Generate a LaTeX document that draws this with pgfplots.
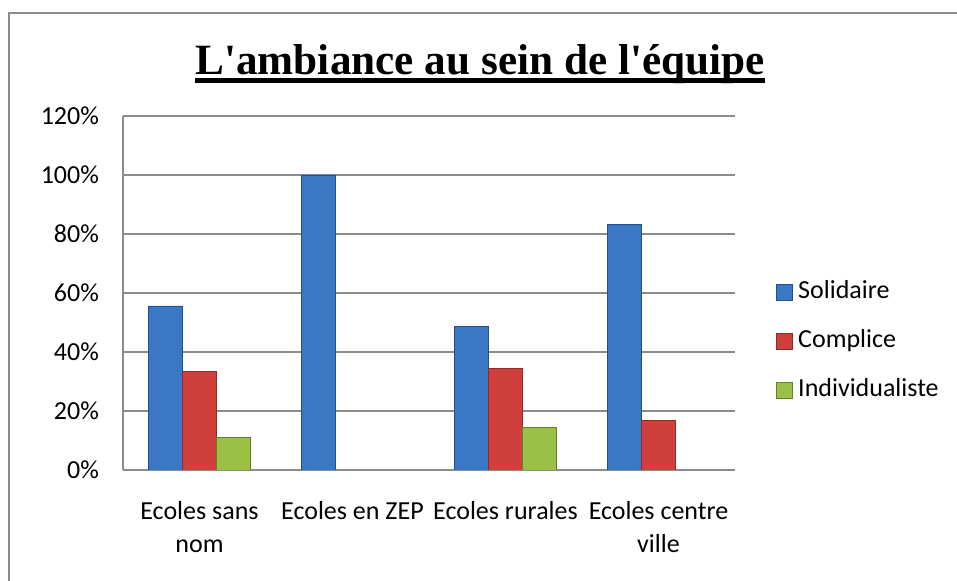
\documentclass[border=0pt]{standalone}
\usepackage{pgfplots}
\pgfplotsset{compat=1.18}
\usepackage{fontspec}
\setmainfont{Carlito}
\newfontfamily\titlefont{Liberation Serif}
\definecolor{gridgray}{HTML}{8C8C8C}
\definecolor{sol}{HTML}{3A78C4}
\definecolor{solD}{HTML}{23508C}
\definecolor{com}{HTML}{CF3F3C}
\definecolor{comD}{HTML}{8E2A28}
\definecolor{ind}{HTML}{9AC046}
\definecolor{indD}{HTML}{64802A}
\begin{document}
\begin{tikzpicture}
\useasboundingbox (0,0) rectangle (478.5pt,290.5pt);
\draw[gridgray, line width=1pt] (4.5pt,-2pt) -- (4.5pt,284pt) -- (482pt,284pt);
\node[font=\titlefont\bfseries\fontsize{21.6}{26}\selectfont, inner sep=0pt, anchor=base] (T) at (240pt,253pt) {L\textquotesingle ambiance au sein de l\textquotesingle équipe};
\draw[line width=2.5pt] ([yshift=-2.9pt]T.base west) -- ([yshift=-2.9pt]T.base east);
\begin{axis}[
  at={(61.5pt,55.5pt)}, anchor=south west,
  scale only axis, width=306pt, height=177pt,
  xmin=-0.5, xmax=3.5, ymin=0, ymax=120,
  ybar=0pt, bar width=17pt,
  axis x line*=bottom, axis y line*=left,
  axis line style={-, gridgray, line width=0.75pt},
  ytick={0,20,...,120},
  yticklabel={\pgfmathprintnumber{\tick}\%},
  /pgf/number format/assume math mode=true,
  ymajorgrids, major grid style={gridgray, line width=0.75pt},
  major tick length=0pt,
  xtick={0,1,2,3},
  xticklabels={{Ecoles sans\\nom},{Ecoles en ZEP},{Ecoles rurales},{Ecoles centre\\ville}},
  tick label style={font=\fontsize{13}{16.6}\selectfont},
  xticklabel style={align=center, yshift=-12pt},
  yticklabel style={xshift=-8.5pt},
  legend style={draw=none, fill=none, inner sep=0pt, at={(1.067,0.362)}, anchor=west,
    font=\fontsize{13}{15.8}\selectfont, row sep=12.5pt,
    nodes={text height=9pt, text depth=3pt, inner sep=0pt}},
  legend cell align=left,
  legend image code/.code={\draw[#1] (0pt,-4pt) rectangle (8pt,4pt);},
  /tikz/every odd column/.append style={column sep=2.5pt},
]
\addplot[draw=solD, line width=0.4pt, fill=sol]
  coordinates {(0,55.6) (1,100) (2,48.6) (3,83.3)};
\addplot[draw=comD, line width=0.4pt, fill=com]
  coordinates {(0,33.3) (2,34.3) (3,16.7)};
\addplot[draw=indD, line width=0.4pt, fill=ind]
  coordinates {(0,11.1) (2,14.3)};
\legend{Solidaire,Complice,Individualiste}
\end{axis}
\end{tikzpicture}
\end{document}
